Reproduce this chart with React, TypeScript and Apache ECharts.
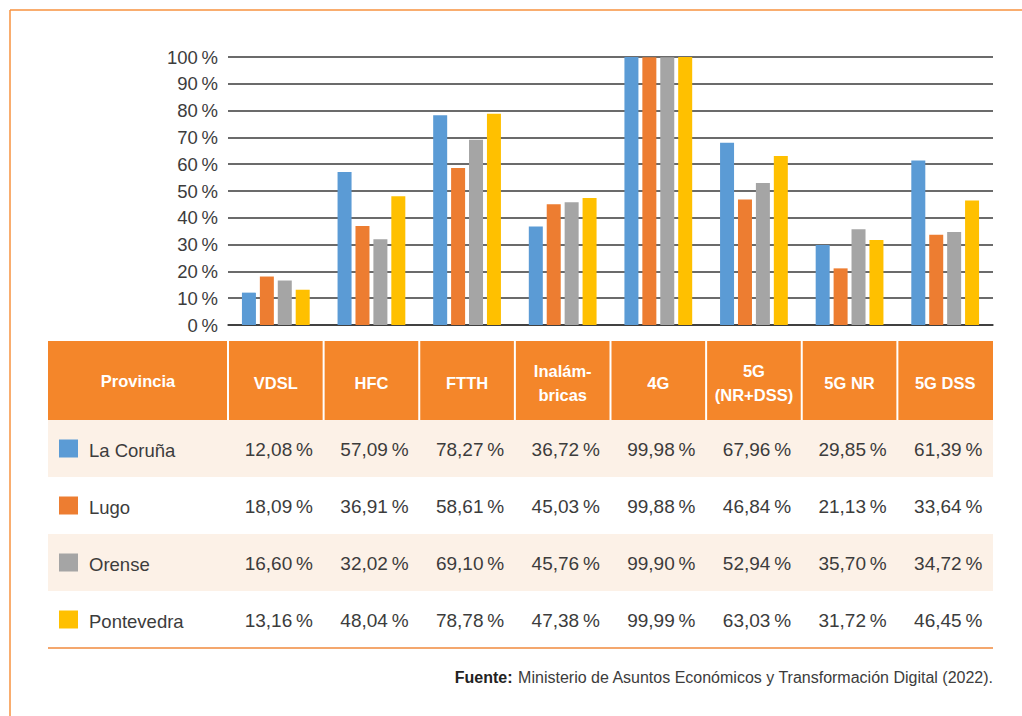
import React, { useEffect, useRef } from "react";
import * as echarts from "echarts";

const categories = ["VDSL", "HFC", "FTTH", "Inalám-\nbricas", "4G", "5G\n(NR+DSS)", "5G NR", "5G DSS"];
const provinces = ["La Coruña", "Lugo", "Orense", "Pontevedra"];
const laCoruna = [12.08, 57.09, 78.27, 36.72, 99.98, 67.96, 29.85, 61.39];
const lugo = [18.09, 36.91, 58.61, 45.03, 99.88, 46.84, 21.13, 33.64];
const orense = [16.6, 32.02, 69.1, 45.76, 99.9, 52.94, 35.7, 34.72];
const pontevedra = [13.16, 48.04, 78.78, 47.38, 99.99, 63.03, 31.72, 46.45];
const seriesValues = [laCoruna, lugo, orense, pontevedra];
const colors = ["#5B9BD5", "#ED7D31", "#A5A5A5", "#FFC000"];
const yTicks = [0, 10, 20, 30, 40, 50, 60, 70, 80, 90, 100];
const headerFirst = "Provincia";
const sourceBold = "Fuente:";
const sourceText = " Ministerio de Asuntos Económicos y Transformación Digital (2022).";

const FONT = "'Liberation Sans', Arial, sans-serif";
const ORANGE = "#F4862A";
const BEIGE = "#FCF1E7";
const TEXT = "#3C3C3C";

const fmt = (v: number) => v.toFixed(2).replace(".", ",") + "\u2009%";

export default function App() {
  const ref = useRef<HTMLDivElement>(null);
  useEffect(() => {
    if (!ref.current) return;
    const chart = echarts.init(ref.current, null, { renderer: "svg" });

    const W = 1022;
    const H = 716;
    const tableLeft = 48;
    const colStart = 228;
    const tableRight = 993;
    const colW = (tableRight - colStart) / categories.length;
    const headTop = 341;
    const headBottom = 420;
    const rowH = 57;

    const g: any[] = [];
    g.push({ type: "line", shape: { x1: 10, y1: 10, x2: W, y2: 10 }, style: { stroke: "#F7923F", lineWidth: 1.5 } });
    g.push({ type: "line", shape: { x1: 10, y1: 10, x2: 10, y2: H }, style: { stroke: "#F7923F", lineWidth: 1.5 } });
    g.push({ type: "rect", shape: { x: tableLeft, y: headTop, width: tableRight - tableLeft, height: headBottom - headTop }, style: { fill: ORANGE } });
    provinces.forEach((_, i) => {
      if (i % 2 === 0) {
        g.push({ type: "rect", shape: { x: tableLeft, y: headBottom + i * rowH, width: tableRight - tableLeft, height: rowH }, style: { fill: BEIGE } });
      }
    });
    const bottomY = headBottom + provinces.length * rowH;
    g.push({ type: "line", shape: { x1: tableLeft, y1: bottomY, x2: tableRight, y2: bottomY }, style: { stroke: "#F08A3C", lineWidth: 1.5 } });
    for (let i = 0; i < categories.length; i++) {
      const x = colStart + i * colW;
      g.push({ type: "line", shape: { x1: x, y1: headTop, x2: x, y2: headBottom }, style: { stroke: "#ffffff", lineWidth: 2 } });
    }
    g.push({
      type: "text",
      x: (tableLeft + colStart) / 2,
      y: (headTop + headBottom) / 2,
      style: { text: headerFirst, fill: "#fff", font: `bold 16.5px ${FONT}`, align: "center", verticalAlign: "middle" },
    });
    categories.forEach((c, i) => {
      g.push({
        type: "text",
        x: colStart + (i + 0.5) * colW,
        y: (headTop + headBottom) / 2 + 2,
        style: { text: c, fill: "#fff", font: `bold 16.5px ${FONT}`, align: "center", verticalAlign: "middle", lineHeight: 24 },
      });
    });
    provinces.forEach((p, r) => {
      const cy = headBottom + r * rowH + rowH / 2 + 1;
      g.push({ type: "rect", shape: { x: 59, y: cy - 10, width: 19, height: 18 }, style: { fill: colors[r] } });
      g.push({
        type: "text",
        x: 89,
        y: cy + 1,
        style: { text: p, fill: TEXT, font: `18.5px ${FONT}`, align: "left", verticalAlign: "middle" },
      });
      seriesValues[r].forEach((v, i) => {
        g.push({
          type: "text",
          x: colStart + (i + 0.5) * colW + 3,
          y: cy,
          style: { text: fmt(v), fill: TEXT, font: `19px ${FONT}`, align: "center", verticalAlign: "middle" },
        });
      });
    });
    g.push({
      type: "text",
      x: tableRight,
      y: 677,
      style: {
        text: `{b|${sourceBold}}{n|${sourceText}}`,
        align: "right",
        verticalAlign: "middle",
        rich: {
          b: { font: `bold 16px ${FONT}`, fill: "#222" },
          n: { font: `16px ${FONT}`, fill: TEXT },
        },
      },
    });

    chart.setOption({
      animation: false,
      grid: { left: colStart, right: W - tableRight, top: 57, height: 268, containLabel: false },
      xAxis: {
        type: "category",
        data: categories,
        axisLabel: { show: false },
        axisTick: { show: false },
        axisLine: { show: true, lineStyle: { color: "#333", width: 1.5 } },
      },
      yAxis: {
        type: "value",
        min: yTicks[0],
        max: yTicks[yTicks.length - 1],
        interval: 10,
        axisLabel: {
          formatter: (v: number) => v + "\u2009%",
          fontSize: 18.5,
          fontFamily: FONT,
          color: TEXT,
          margin: 10,
        },
        axisTick: { show: false },
        axisLine: { show: false },
        splitLine: { lineStyle: { color: "#3a3a3a", width: 1.5 } },
      },
      series: seriesValues.map((d, i) => ({
        type: "bar",
        name: provinces[i],
        data: d,
        barWidth: 14,
        barGap: "28%",
        itemStyle: { color: colors[i] },
        z: 1,
      })),
      graphic: g,
    });
    return () => chart.dispose();
  }, []);
  return <div ref={ref} style={{ position: "absolute", left: 0, top: 0, width: 1022, height: 716, background: "#fff" }} />;
}
